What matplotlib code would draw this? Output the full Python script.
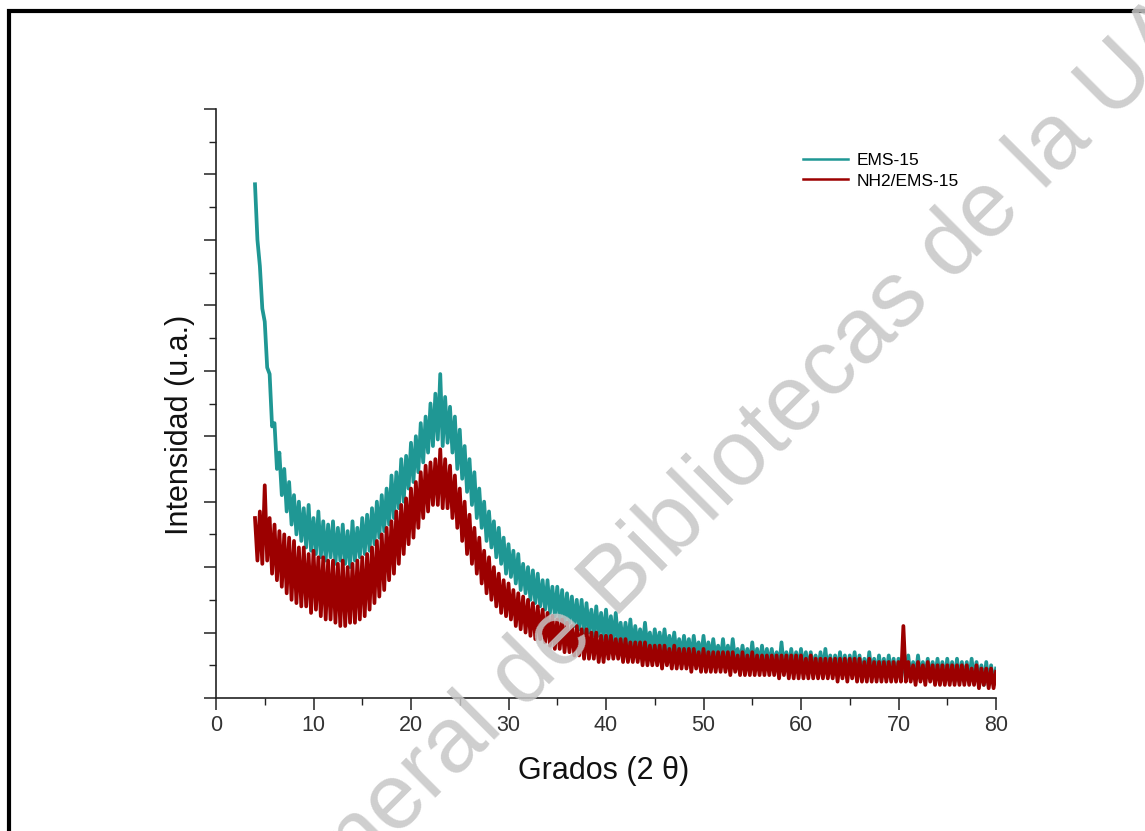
import numpy as np
import matplotlib
matplotlib.use("Agg")
import matplotlib.pyplot as plt
from matplotlib.patches import Rectangle
from matplotlib.ticker import MultipleLocator, NullFormatter

plt.rcParams['font.family'] = ['Liberation Sans', 'DejaVu Sans']

# 2 theta from 4 to 80 in 0.25 steps
two_theta = np.linspace(4, 80, 305)

# EMS-15 (arbitrary units)
ems15 = [
    15.7, 14.0, 13.2, 11.9, 11.5, 10.1, 9.9, 8.3,
    8.4, 7.0, 7.5, 6.2, 7.0, 5.7, 6.6, 5.3,
    6.2, 5.0, 6.0, 4.8, 5.8, 4.6, 5.9, 4.5,
    5.5, 4.4, 5.7, 4.3, 5.4, 4.2, 5.3, 4.3,
    5.4, 4.1, 5.2, 4.2, 5.3, 4.1, 5.1, 4.0,
    5.4, 4.2, 5.2, 4.3, 5.5, 4.4, 5.6, 4.5,
    5.8, 4.7, 6.0, 4.9, 6.2, 5.1, 6.4, 5.3,
    6.8, 5.5, 6.9, 5.8, 7.3, 6.0, 7.4, 6.4,
    7.8, 6.6, 8.0, 6.9, 8.4, 7.2, 8.6, 7.5,
    9.0, 7.7, 9.3, 7.9, 9.9, 7.7, 9.2, 7.8,
    8.9, 7.5, 8.6, 7.0, 8.2, 6.7, 7.7, 6.3,
    7.3, 5.9, 6.9, 5.5, 6.4, 5.2, 6.0, 4.8,
    5.7, 4.6, 5.4, 4.3, 5.2, 4.1, 4.9, 3.8,
    4.7, 3.7, 4.5, 3.5, 4.4, 3.3, 4.1, 3.2,
    4.0, 3.0, 3.9, 2.9, 3.8, 2.8, 3.6, 2.7,
    3.6, 2.6, 3.4, 2.5, 3.4, 2.4, 3.3, 2.3,
    3.2, 2.3, 3.1, 2.2, 3.0, 2.1, 3.0, 2.0,
    2.9, 2.0, 2.7, 1.9, 2.8, 1.9, 2.6, 1.8,
    2.7, 1.8, 2.5, 1.7, 2.6, 1.7, 2.3, 1.6,
    2.3, 1.6, 2.4, 1.5, 2.2, 1.6, 2.1, 1.5,
    2.3, 1.5, 2.0, 1.4, 2.1, 1.5, 2.0, 1.4,
    2.1, 1.4, 1.9, 1.4, 2.0, 1.3, 1.8, 1.3,
    1.9, 1.3, 1.8, 1.2, 1.9, 1.3, 1.7, 1.2,
    1.9, 1.2, 1.7, 1.2, 1.8, 1.2, 1.6, 1.1,
    1.8, 1.1, 1.6, 1.1, 1.8, 1.1, 1.5, 1.1,
    1.6, 1.1, 1.5, 1.0, 1.7, 1.0, 1.5, 1.0,
    1.6, 1.0, 1.5, 1.0, 1.5, 1.0, 1.4, 0.9,
    1.7, 0.9, 1.4, 0.9, 1.5, 0.9, 1.4, 0.9,
    1.5, 0.9, 1.4, 0.8, 1.4, 0.9, 1.3, 0.8,
    1.4, 0.8, 1.5, 0.8, 1.3, 0.8, 1.3, 0.8,
    1.4, 0.8, 1.3, 0.7, 1.3, 0.8, 1.4, 0.7,
    1.3, 0.7, 1.2, 0.7, 1.4, 0.7, 1.2, 0.7,
    1.3, 0.7, 1.2, 0.7, 1.3, 0.7, 1.2, 0.6,
    1.2, 0.7, 1.2, 0.6, 1.3, 0.6, 1.1, 0.6,
    1.3, 0.6, 1.1, 0.6, 1.2, 0.6, 1.1, 0.6,
    1.2, 0.6, 1.1, 0.5, 1.2, 0.6, 1.1, 0.5,
    1.2, 0.5, 1.1, 0.5, 1.1, 0.5, 1.2, 0.5,
    1.1, 0.5, 1.0, 0.4, 1.1, 0.4, 1.0, 0.4,
    0.9,
]

# NH2/EMS-15
nh2_ems15 = [
    5.5, 4.2, 5.7, 4.1, 6.5, 4.2, 5.5, 3.8,
    5.3, 3.6, 5.1, 3.4, 5.0, 3.2, 4.9, 3.0,
    4.8, 2.9, 4.6, 2.8, 4.6, 2.8, 4.4, 2.6,
    4.5, 2.7, 4.3, 2.5, 4.3, 2.4, 4.2, 2.4,
    4.2, 2.3, 4.1, 2.2, 4.2, 2.2, 4.0, 2.3,
    4.1, 2.3, 4.2, 2.4, 4.3, 2.5, 4.4, 2.7,
    4.6, 2.9, 4.8, 3.1, 5.0, 3.3, 5.2, 3.6,
    5.4, 3.8, 5.7, 4.1, 5.9, 4.4, 6.1, 4.7,
    6.4, 4.9, 6.6, 5.2, 6.9, 5.5, 7.1, 5.7,
    7.2, 5.9, 7.3, 5.9, 7.6, 5.8, 7.3, 5.8,
    7.1, 5.5, 6.8, 5.2, 6.4, 4.8, 6.0, 4.4,
    5.6, 4.1, 5.2, 3.8, 4.9, 3.5, 4.5, 3.2,
    4.3, 3.0, 4.0, 2.8, 3.8, 2.6, 3.6, 2.5,
    3.5, 2.4, 3.3, 2.2, 3.2, 2.1, 3.1, 2.0,
    3.0, 1.9, 2.9, 1.8, 2.8, 1.8, 2.7, 1.7,
    2.6, 1.6, 2.5, 1.5, 2.4, 1.5, 2.4, 1.4,
    2.3, 1.4, 2.2, 1.3, 2.2, 1.3, 2.1, 1.2,
    2.1, 1.2, 2.0, 1.2, 2.0, 1.1, 1.9, 1.1,
    1.9, 1.2, 1.9, 1.2, 1.8, 1.2, 1.8, 1.1,
    1.8, 1.1, 1.7, 1.1, 1.7, 1.1, 1.7, 1.0,
    1.7, 1.0, 1.6, 1.0, 1.6, 1.0, 1.6, 0.9,
    1.6, 1.0, 1.5, 0.9, 1.6, 0.9, 1.5, 0.9,
    1.5, 0.9, 1.5, 0.8, 1.5, 0.9, 1.4, 0.8,
    1.5, 0.8, 1.4, 0.8, 1.4, 0.8, 1.4, 0.8,
    1.4, 0.8, 1.4, 0.7, 1.4, 0.8, 1.3, 0.7,
    1.4, 0.7, 1.3, 0.7, 1.4, 0.7, 1.3, 0.7,
    1.3, 0.7, 1.3, 0.7, 1.3, 0.7, 1.3, 0.6,
    1.3, 0.7, 1.3, 0.6, 1.3, 0.6, 1.3, 0.6,
    1.3, 0.6, 1.2, 0.6, 1.3, 0.6, 1.2, 0.6,
    1.2, 0.6, 1.2, 0.6, 1.2, 0.6, 1.2, 0.5,
    1.2, 0.6, 1.2, 0.5, 1.2, 0.6, 1.2, 0.5,
    1.2, 0.5, 1.1, 0.5, 1.2, 0.5, 1.1, 0.5,
    1.1, 0.5, 1.1, 0.5, 1.1, 0.5, 1.1, 0.5,
    1.1, 0.5, 2.2, 0.5, 1.1, 0.5, 1.0, 0.4,
    1.1, 0.5, 1.0, 0.4, 1.1, 0.5, 1.0, 0.4,
    1.0, 0.4, 1.0, 0.4, 1.0, 0.4, 1.0, 0.4,
    1.0, 0.4, 1.0, 0.4, 1.0, 0.4, 0.9, 0.4,
    1.0, 0.3, 0.9, 0.4, 0.9, 0.3, 0.9, 0.3,
    0.8,
]

teal = '#1f9794'
dark_red = '#9c0000'

fig = plt.figure(figsize=(11.45, 8.31), dpi=100)
ax = fig.add_axes([216 / 1145, 133 / 831, 780 / 1145, 589 / 831])

ax.plot(two_theta, ems15, color=teal, lw=2.7, label='EMS-15')
ax.plot(two_theta, nh2_ems15, color=dark_red, lw=2.7, label='NH2/EMS-15')

ax.set_xlim(0, 80)
ax.set_ylim(0, 18)
for side in ['top', 'right']:
    ax.spines[side].set_visible(False)
for side in ['left', 'bottom']:
    ax.spines[side].set_linewidth(1.2)
    ax.spines[side].set_color('#222222')

ax.xaxis.set_major_locator(MultipleLocator(10))
ax.xaxis.set_minor_locator(MultipleLocator(5))
ax.yaxis.set_major_locator(MultipleLocator(2))
ax.yaxis.set_minor_locator(MultipleLocator(1))
ax.yaxis.set_major_formatter(NullFormatter())
ax.tick_params(which='major', direction='out', length=8.5, width=1.1, color='#222222',
               labelsize=15.5, labelcolor='#333333', pad=4)
ax.tick_params(which='minor', direction='out', length=5, width=1.0, color='#222222')

ax.set_xlabel('Grados (2 θ)', fontsize=22, color='#111111')
ax.set_ylabel('Intensidad (u.a.)', fontsize=22, color='#111111')
ax.xaxis.set_label_coords(0.497, -0.098)
ax.yaxis.set_label_coords(-0.027, 0.464)

leg = ax.legend(loc='upper left', bbox_to_anchor=(803 / 1145, 1 - 153 / 831),
                bbox_transform=fig.transFigure, frameon=False, fontsize=12.5,
                handlelength=2.6, handletextpad=0.5, labelspacing=0.3,
                borderpad=0, borderaxespad=0)
for line in leg.get_lines():
    line.set_linewidth(1.8)

# thick frame at top/left edge of the image
fig.add_artist(Rectangle((9 / 1145, -0.2), 1.5, 1.2 - 11 / 831, transform=fig.transFigure,
                         fill=False, lw=3.0, edgecolor='black'))

# library watermark
fig.text(599 / 1145, 1 - 600 / 831, 'Dirección General de Bibliotecas de la UAQ',
         rotation=45, rotation_mode='anchor', ha='center', va='center',
         fontsize=67, color='#c6c6c6', alpha=0.85)

fig.savefig('out.png', dpi=100)
